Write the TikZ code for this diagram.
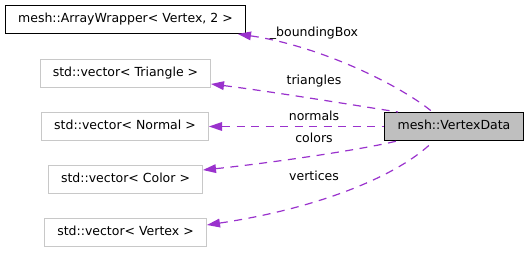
\documentclass[tikz,border=0pt]{standalone}
\usepackage{fontspec}
\setmainfont{DejaVu Sans}
\usetikzlibrary{arrows.meta}
\definecolor{edgepurple}{HTML}{9A32CD}
\definecolor{boxgray}{HTML}{BFBFBF}
\definecolor{bordergray}{HTML}{C8C8C8}
\begin{document}
\begin{tikzpicture}[x=1pt,y=-1pt,
  every node/.style={font=\fontsize{12.5}{14}\selectfont, inner sep=0pt, text height=9.2pt, text depth=2.8pt},
  classbox/.style={draw=black, line width=1pt, minimum height=28pt},
  extbox/.style={draw=bordergray, line width=1pt, minimum height=28pt},
  mainbox/.style={draw=black, fill=boxgray, line width=1pt, minimum height=28pt},
  member/.style={draw=edgepurple, line width=1.2pt, dash pattern=on 8pt off 6.5pt,
    {Triangle[length=13pt,width=9pt,fill=edgepurple,line width=0pt]}-},
  lbl/.style={anchor=base, text height=, text depth=}
]
\useasboundingbox (0,0) rectangle (528,253);

% classes
\node[classbox, minimum width=240pt] (aw)  at (125.5,19.5)  {mesh::ArrayWrapper< Vertex, 2 >};
\node[extbox,   minimum width=170pt] (tri) at (125.5,73.5)  {std::vector< Triangle >};
\node[extbox,   minimum width=167pt] (nor) at (125,126.5)   {std::vector< Normal >};
\node[extbox,   minimum width=154pt] (col) at (125.5,179.5) {std::vector< Color >};
\node[extbox,   minimum width=162pt] (ver) at (125.5,232.5) {std::vector< Vertex >};
\node[mainbox,  minimum width=139pt] (vd)  at (454,126.5)   {mesh::VertexData};

% usage relations
\draw[member] ([xshift=-8pt]aw.south east) .. controls (320,46) and (400,85) .. ([xshift=-21.5pt]vd.north);
\draw[member] ([yshift=4pt]tri.south east) .. controls (275,92) and (365,107) .. ([xshift=14pt]vd.north west);
\draw[member] (vd.west -| nor.east) -- (vd.west);
\draw[member] ([yshift=-5pt]col.north east) .. controls (270,163) and (360,150) .. ([xshift=13pt]vd.south west);
\draw[member] ([yshift=-7pt]ver.north east) .. controls (320,208) and (400,175) .. ([xshift=-20.5pt]vd.south);

% member names
\node[lbl] (lbb) at (314,37)  {\_boundingBox};
\node[lbl] (ltr) at (314,85)  {triangles};
\node[lbl] (lno) at (314,121) {normals};
\node[lbl] (lco) at (314,143) {colors};
\node[lbl] (lve) at (314,181) {vertices};
\end{tikzpicture}
\end{document}
